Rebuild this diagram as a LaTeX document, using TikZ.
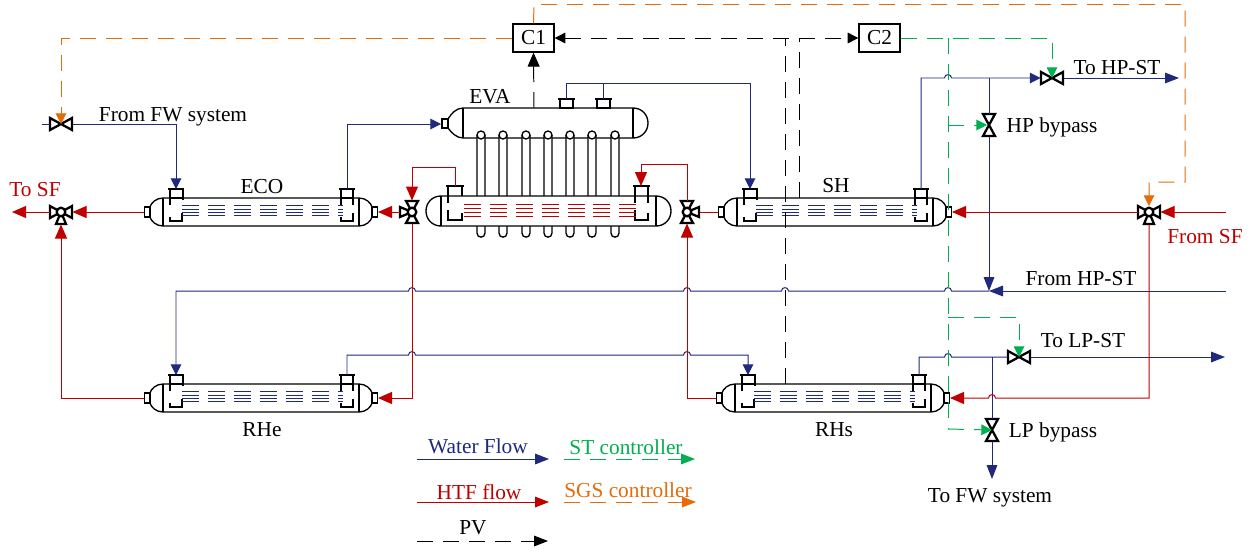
\documentclass[tikz,border=0pt]{standalone}
\usepackage{fontspec}
\setmainfont{Liberation Serif}
\usetikzlibrary{arrows.meta}
\definecolor{wat}{RGB}{31,42,125}
\definecolor{htf}{RGB}{192,0,0}
\definecolor{stc}{RGB}{0,176,80}
\definecolor{sgs}{RGB}{228,108,10}
\tikzset{
  lbl/.style={inner sep=0pt,font=\fontsize{16}{18}\selectfont},
  pipe/.style={line width=0.74pt},
  tipL/.tip={Triangle[length=10.5pt,width=9pt]},
  tipM/.tip={Triangle[length=10.5pt,width=8pt]},
  tipS/.tip={Triangle[length=8pt,width=8pt]},
  water/.style={pipe,draw=wat,fill=none,arrows={-tipM[wat]}},
  waterS/.style={pipe,draw=wat,arrows={-tipS[wat]}},
  waterN/.style={pipe,draw=wat},
  hot/.style={pipe,draw=htf,arrows={-tipL[htf]}},
  hotN/.style={pipe,draw=htf},
  dashy/.style={line width=0.74pt,dash pattern=on 12pt off 7.5pt},
  pv/.style={dashy,draw=black,arrows={-tipS[black]}},
  pvN/.style={dashy,draw=black},
  gr/.style={dashy,draw=stc,arrows={-tipS[stc]}},
  grN/.style={dashy,draw=stc},
  orA/.style={dashy,draw=sgs,arrows={-tipS[sgs]}},
  shell/.style={line width=1pt,draw=black,fill=white},
  flange/.style={line width=1.8pt,draw=black},
  inner/.style={line width=1pt,draw=black},
  vlv/.style={line width=1.7pt,draw=black,fill=white,line join=miter},
  ctl/.style={draw=black,line width=1pt,fill=white,minimum width=30.75pt,minimum height=21pt,inner sep=0pt,font=\fontsize{16}{18}\selectfont},
  hx/.pic={
    \coordinate (-lin) at (0,0);
    \coordinate (-rin) at (234,0);
    \coordinate (-t1) at (32,-23);
    \coordinate (-t2) at (203,-23);
    \draw[shell] (19,-14) -- (215,-14) .. controls (222,-14) and (227,-9) .. (228,-5) -- (228,5)
      .. controls (227,9) and (222,14) .. (215,14) -- (19,14)
      .. controls (12,14) and (7,9) .. (6,5) -- (6,-5) .. controls (7,-9) and (12,-14) .. (19,-14) -- cycle;
    \draw[inner] (19,-14) -- (19,14) (215,-14) -- (215,14);
    \draw[line width=1.3pt,draw=black,fill=white] (0.5,-5) rectangle (6,5);
    \draw[line width=1.3pt,draw=black,fill=white] (228,-5) rectangle (233.5,5);
    \draw[inner] (26,-23) -- (26,-7) (39,-23) -- (39,-12) (26,-14) -- (39,-14);
    \draw[inner] (26,5) -- (26,9) -- (38,9) -- (38,1);
    \draw[inner] (197,-23) -- (197,-7) (209,-23) -- (209,-7) (197,-14) -- (209,-14);
    \draw[inner] (197,5) -- (197,9) -- (209,9) -- (209,1);
    \draw[flange] (24,-23) -- (40,-23) (195,-23) -- (211,-23);
    \foreach \yy in {-6.3,-3,0.3,3.7}{
      \foreach \xx in {38,64,90,116,142,168}{
        \draw[line width=0.6pt,draw=wat] (\xx,\yy) -- (\xx+17,\yy);
      }
      \draw[line width=0.6pt,draw=wat] (194,\yy) -- (199,\yy);
    }
  },
  valveh/.pic={
    \coordinate (-c) at (0,0);
    \coordinate (-l) at (-11.5,0);
    \coordinate (-r) at (11.5,0);
    \draw[vlv] (-11,-6) -- (-11,6) -- (11,-6) -- (11,6) -- cycle;
  },
  valvev/.pic={
    \coordinate (-c) at (0,0);
    \coordinate (-t) at (0,-11.5);
    \coordinate (-b) at (0,11.5);
    \draw[vlv] (-6,-11) -- (6,-11) -- (-6,11) -- (6,11) -- cycle;
  },
  valved/.pic={
    \coordinate (-l) at (-11.5,0);
    \coordinate (-r) at (11.5,0);
    \coordinate (-t) at (0,-6);
    \coordinate (-b) at (0,12.5);
    \draw[vlv] (-5,12) -- (5,12) -- (0,0) -- cycle;
    \draw[vlv] (-11,-6) -- (-11,6) -- (11,-6) -- (11,6) -- cycle;
    \draw[vlv] (0,0) circle (4.3);
  },
  valvel/.pic={
    \coordinate (-t) at (0,-11.5);
    \coordinate (-b) at (0,11.5);
    \coordinate (-l) at (-12.5,0);
    \draw[vlv] (-12,-5) -- (-12,5) -- (0,0) -- cycle;
    \draw[vlv] (-6,-11) -- (6,-11) -- (-6,11) -- (6,11) -- cycle;
    \draw[vlv] (0,0) circle (4.3);
  },
  valver/.pic={
    \coordinate (-t) at (0,-11.5);
    \coordinate (-b) at (0,11.5);
    \coordinate (-r) at (12.5,0);
    \draw[vlv] (12,-5) -- (12,5) -- (0,0) -- cycle;
    \draw[vlv] (-6,-11) -- (6,-11) -- (-6,11) -- (6,11) -- cycle;
    \draw[vlv] (0,0) circle (4.3);
  },
}
% line jumps: going right / going left over a crossing at x=#1 on level y=#2
\def\hr#1#2{-- (#1-3.5,#2) .. controls (#1-3.5,#2-4.5) and (#1+3.5,#2-4.5) .. (#1+3.5,#2)}
\def\hl#1#2{-- (#1+3.5,#2) .. controls (#1+3.5,#2-4.5) and (#1-3.5,#2-4.5) .. (#1-3.5,#2)}
\begin{document}
\begin{tikzpicture}[x=0.75pt,y=-0.75pt]
\fill[white] (0,0) rectangle (1257,551);
\useasboundingbox (0,0) rectangle (1257,551);

% evaporator: upper drum, risers, lower drum
\coordinate (evu-l) at (441,124);
\coordinate (evu-t1) at (566,99);
\coordinate (evu-t2) at (603,99);
\coordinate (evu-pv) at (534,108);
\coordinate (evl-t1) at (455,186);
\coordinate (evl-t2) at (641,186);
\draw[shell] (463,108) -- (633,108) .. controls (642,108) and (648,115) .. (648,123)
  .. controls (648,131) and (642,138) .. (633,138) -- (463,138)
  .. controls (456,138) and (451,132) .. (448,128) -- (448,119) .. controls (451,114) and (456,108) .. (463,108) -- cycle;
\draw[inner] (463,108) -- (463,138) (633,108) -- (633,138);
\draw[line width=1.3pt,draw=black,fill=white] (442,119) rectangle (448,128);
\draw[inner,fill=white] (560,99) rectangle (573,108) (597,99) rectangle (610,108);
\draw[flange] (558,99) -- (575,99) (595,99) -- (612,99);
\foreach \xx in {481,503,526,548,570,592,615}{
  \draw[inner,fill=white] (\xx-4,135) -- (\xx-4,233) .. controls (\xx-4,238.5) and (\xx+4,238.5) .. (\xx+4,233) -- (\xx+4,135);
  \draw[inner,fill=white] (\xx,135) circle (4);
}
\draw[shell] (441,196) -- (656,196) .. controls (665,196) and (671,203) .. (671,211)
  .. controls (671,219) and (665,226) .. (656,226) -- (441,226)
  .. controls (432,226) and (426,219) .. (426,211) .. controls (426,203) and (432,196) .. (441,196) -- cycle;
\draw[inner] (441,196) -- (441,226) (656,196) -- (656,226);
\draw[inner] (448,186) -- (448,203) (462,186) -- (462,196);
\draw[inner] (448,210) -- (448,220) -- (462,220) -- (462,213);
\draw[inner] (635,186) -- (635,203) (648,186) -- (648,203);
\draw[inner] (635,210) -- (635,220) -- (648,220) -- (648,213);
\draw[flange] (446,186) -- (464,186) (633,186) -- (650,186);
\foreach \yy in {204.3,208,212,216}{
  \foreach \xx in {464,490,516,542,568,593,619}{
    \draw[line width=0.6pt,draw=htf] (\xx,\yy) -- (\xx+17,\yy);
  }
}

% exchangers
\pic (eco) at (144,212) {hx};
\pic (sh) at (718,212) {hx};
\pic (rhe) at (144,398) {hx};
\pic (rhs) at (716,398) {hx};

% valves
\pic (vfw) at (61,124) {valveh};
\pic (vhp) at (1052,78) {valveh};
\pic (vhb) at (989,125) {valvev};
\pic (vlp) at (1019,357) {valveh};
\pic (vlb) at (992,430) {valvev};
\pic (vsf) at (61,212) {valved};
\pic (vea) at (412,212) {valvel};
\pic (ved) at (687,212) {valver};
\pic (vin) at (1149,212) {valved};

% controllers
\node[ctl] (c1) at (533.5,38) {C1};
\node[ctl] (c2) at (879.5,38) {C2};

% free ends and junctions
\coordinate (fwin) at (42,124);
\coordinate (bus) at (750,83.5);
\coordinate (hpout) at (1179,78);
\coordinate (hpj) at (989,78);
\coordinate (hpst) at (1226,291);
\coordinate (hpm) at (989,291);
\coordinate (lpj) at (992,357);
\coordinate (lpout) at (1225,357);
\coordinate (fwout) at (992,479);
\coordinate (sfin) at (1226,212);
\coordinate (sfout) at (12,212);
\coordinate (shpv) at (799,198);
\coordinate (rhspv) at (785,384);
\coordinate (gj) at (948,38);

% water
\draw[waterN] (fwin) -- (vfw-l);
\draw[waterS] (vfw-r) -| (eco-t1);
\draw[waterS] (eco-t2) |- (evu-l);
\draw[waterS] (evu-t1) |- (bus) -- (sh-t1);
\draw[waterN] (evu-t2) -- (evu-t2 |- bus);
\draw[waterS] (sh-t2) -- (921,78) \hr{948}{78} -- (vhp-l);
\draw[water] (vhp-r) -- (hpout);
\draw[waterN] (hpj) -- (vhb-t);
\draw[water] (vhb-b) -- (hpm);
\draw[water] (hpst) -- (hpm);
\draw[waterS] (hpm) \hl{948}{291} \hl{785}{291} \hl{687}{291} \hl{412}{291} -- (176,291) -- (rhe-t1);
\draw[waterS] (rhe-t2) -- (347,355) \hr{412}{355} \hr{687}{355} -- (748,355) -- (rhs-t1);
\draw[waterN] (rhs-t2) -- (919,357) \hr{948}{357} -- (vlp-l);
\draw[water] (vlp-r) -- (lpout);
\draw[waterN] (lpj) -- (vlb-t);
\draw[water] (vlb-b) -- (fwout);

% heat transfer fluid
\draw[hot] (sfin) -- (vin-r);
\draw[hot] (vin-l) -- (sh-rin);
\draw[hot] (vin-b) -- (1149,398) \hl{992}{398} -- (rhs-rin);
\draw[hot] (rhs-lin) -| (ved-b);
\draw[hot] (ved-t) -- (687,164) -| (evl-t2);
\draw[hotN] (ved-r) -- (sh-lin);
\draw[hot] (evl-t1) -- (455,167) -| (vea-t);
\draw[hot] (vea-l) -- (eco-rin);
\draw[hot] (vea-b) |- (rhe-rin);
\draw[hot] (eco-lin) -- (vsf-r);
\draw[hot] (vsf-l) -- (sfout);
\draw[hot] (rhe-lin) -| (vsf-b);

% process variables
\draw[pv,arrows={tipS[black]-tipS[black]}] (c1.east) -- (c2.west);
\draw[pv,arrows={-tipL[black]}] (evu-pv) -- (c1.south);
\draw[pvN] (shpv) -- (799,38);
\draw[pvN] (rhspv) -- (785,38);

% steam turbine controller
\draw[gr] (c2.east) -- (1052,38) -- (vhp-c);
\draw[grN] (gj) -- (948,429);
\draw[gr] (948,429) -- (vlb-c);
\draw[gr] (948,125) -- (987,125);
\draw[gr] (948,317) -- (1019,317) -- (vlp-c);

% steam generator controller
\draw[orA] (c1.north) -- (534,4.5) -- (1185,4.5) -- (1185,182) -- (1149,182) -- (vin-t);
\draw[orA] (c1.west) -| (vfw-c);

% labels
\node[lbl] (t1) at (173,116.5) {From FW system};
\node[lbl] (t2) at (262,187) {ECO};
\node[lbl] (t3) at (490,97) {EVA};
\node[lbl] (t4) at (836,186) {SH};
\node[lbl] (t5) at (262,430) {RHe};
\node[lbl] (t6) at (834,430) {RHs};
\node[lbl] (t7) at (1117,68) {To HP-ST};
\node[lbl] (t8) at (1052,127) {HP bypass};
\node[lbl,text=htf] (t9) at (1205,237) {From SF};
\node[lbl] (t10) at (1081,279) {From HP-ST};
\node[lbl] (t11) at (1083,341) {To LP-ST};
\node[lbl] (t12) at (1053,432) {LP bypass};
\node[lbl] (t13) at (990,497.5) {To FW system};
\node[lbl,text=htf] (t14) at (35,189.5) {To SF};

% legend
\coordinate (la1) at (417,459); \coordinate (la2) at (549,459);
\coordinate (lb1) at (564,459); \coordinate (lb2) at (695,459);
\coordinate (lc1) at (417,502); \coordinate (lc2) at (549,502);
\coordinate (ld1) at (564,502); \coordinate (ld2) at (696,502);
\coordinate (le1) at (417,541); \coordinate (le2) at (548,541);
\draw[water] (la1) -- (la2);
\draw[gr,arrows={-tipM[stc]}] (lb1) -- (lb2);
\draw[hot,arrows={-tipM[htf]}] (lc1) -- (lc2);
\draw[orA,arrows={-tipM[sgs]}] (ld1) -- (ld2);
\draw[pv,arrows={-tipM[black]}] (le1) -- (le2);
\node[lbl,text=wat] (l1) at (478,446) {Water Flow};
\node[lbl,text=stc] (l2) at (626,447) {ST controller};
\node[lbl,text=htf] (l3) at (479,492) {HTF flow};
\node[lbl,text=sgs] (l4) at (628,490) {SGS controller};
\node[lbl] (l5) at (473,528) {PV};
\end{tikzpicture}
\end{document}
